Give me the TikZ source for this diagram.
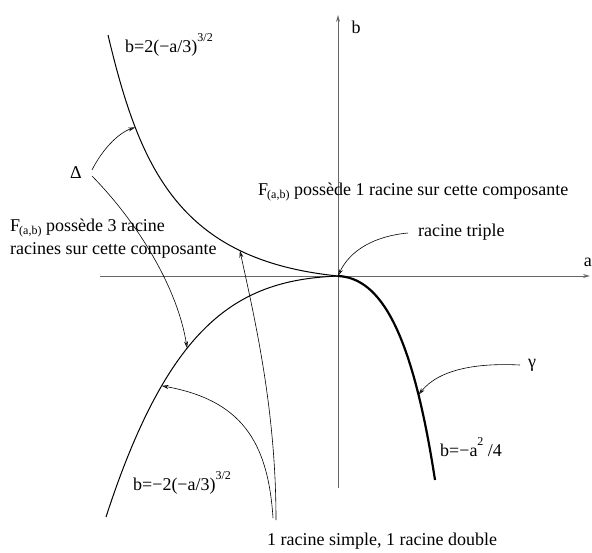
\documentclass[tikz,border=0pt]{standalone}
\usepackage{fontspec}
\setmainfont{Liberation Serif}
\usetikzlibrary{arrows.meta}
\newcommand{\hsup}[1]{\raisebox{1.3ex}{\fontsize{12}{14}\selectfont #1}}
\newcommand{\Fab}{F\kern-1pt\raisebox{-0.35ex}{\fontsize{12}{14}\selectfont (a,b)}}
\tikzset{
  lbl/.style={inner sep=0pt, font=\fontsize{18}{23}\selectfont},
  axe/.style={draw=black!60, line width=0.8pt, -{Stealth[length=7pt,width=4pt,open]}},
  courbe/.style={line width=1pt},
  fleche/.style={line width=0.6pt, -{Stealth[length=7pt,width=4pt,open]}}
}
\begin{document}
\begin{tikzpicture}[x=1pt,y=-1pt]
\useasboundingbox (0,0) rectangle (592,552);
% axes
\coordinate (o) at (338,276);
\coordinate (xg) at (100,276);
\coordinate (xd) at (590,276);
\coordinate (yb) at (338,488);
\coordinate (yh) at (338,15);
\draw[axe] (xg) -- (xd);
\draw[axe] (yb) -- (yh);
\node[lbl, anchor=east] (la) at (592,262) {a};
\node[lbl] (lb) at (356,27) {b};
% courbes
\draw[courbe] (108,35) .. controls (140,170) and (180,260) .. (o)
  coordinate[pos=0.25] (h1) coordinate[pos=0.75] (h2);
\draw[courbe] (o) .. controls (240,280) and (170,320) .. (106,517)
  coordinate[pos=0.6] (m1) coordinate[pos=0.72] (m2);
\draw[line width=2.2pt] (o) .. controls (380,278) and (412,330) .. (435,480)
  coordinate[pos=0.78] (g1);
% textes
\node[lbl, anchor=west] (eqh) at (125,45) {b=2(−a/3)\hsup{3/2}};
\node[lbl, anchor=west] (eqm) at (133,483) {b=−2(−a/3)\hsup{3/2}};
\node[lbl, anchor=west] (eqg) at (440,447) {b=−a\hsup{2} /4};
\node[lbl] (delta) at (76,173) {Δ};
\node[lbl] (gamma) at (532,365) {γ};
\node[lbl, anchor=west, align=left] (trois) at (10,239) {\Fab\ possède 3 racine\\racines sur cette composante};
\node[lbl, anchor=west] (une) at (258,192) {\Fab\ possède 1 racine sur cette composante};
\node[lbl, anchor=west] (triple) at (418,232) {racine triple};
\node[lbl, anchor=west] (double) at (267,541) {1 racine simple, 1 racine double};
% fleches
\coordinate (d0) at (92,170);
\coordinate (d1) at (92,176);
\coordinate (s0) at (276,520);
\coordinate (s1) at (273,518);
\coordinate (t0) at (408,233);
\coordinate (c0) at (520,365);
\draw[fleche] (d0) .. controls (102,150) and (118,133) .. (h1);
\draw[fleche] (d1) .. controls (140,225) and (178,290) .. (m1);
\draw[fleche] (s0) .. controls (276,410) and (255,320) .. (h2);
\draw[fleche] (s1) .. controls (268,440) and (240,400) .. (m2);
\draw[fleche] (t0) .. controls (375,236) and (350,250) .. (o);
\draw[fleche] (c0) .. controls (480,363) and (440,368) .. (g1);
\end{tikzpicture}
\end{document}
